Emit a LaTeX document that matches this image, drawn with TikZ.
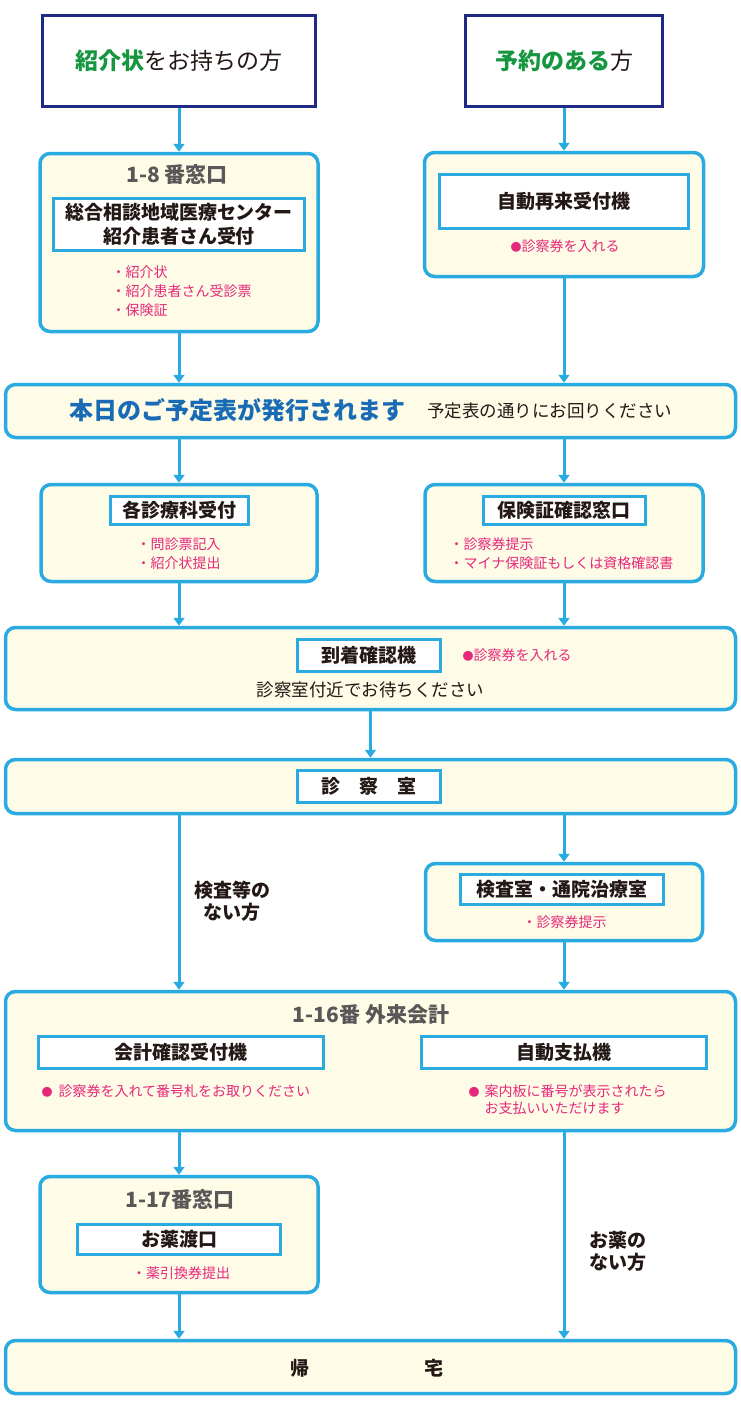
\documentclass[tikz,border=0pt]{standalone}
\usepackage{fontspec}
\setmainfont{Noto Sans CJK JP}
\usetikzlibrary{arrows.meta}
\definecolor{skyblue}{HTML}{29ABE2}
\definecolor{cream}{HTML}{FEFBE6}
\definecolor{navy}{HTML}{1F2A85}
\definecolor{leafgreen}{HTML}{15963F}
\definecolor{rose}{HTML}{E5287B}
\definecolor{slate}{HTML}{595757}
\definecolor{ink}{HTML}{231815}
\definecolor{royal}{HTML}{1A6BB5}
\newcommand\dotmark{{\fontsize{11}{11}\selectfont ●}}

\begin{document}
\begin{tikzpicture}[x=1pt, y=-1pt,
    pane/.style={draw=skyblue, line width=3.5pt, fill=cream, rounded corners=10pt, inner sep=0pt},
    starter/.style={draw=navy, line width=3.5pt, fill=white, inner sep=0pt, text=ink, font=\fontsize{23}{27}\selectfont},
    tag/.style={draw=skyblue, line width=3pt, fill=white, inner sep=0pt, align=center, text=ink, font=\bfseries\fontsize{19}{24}\selectfont},
    head/.style={text=slate, font=\bfseries\fontsize{21}{25}\selectfont},
    memo/.style={text=rose, align=left, font=\fontsize{14}{19}\selectfont},
    aside/.style={text=ink, align=center, font=\bfseries\fontsize{19}{22}\selectfont},
    flow/.style={draw=skyblue, line width=3pt, -{Triangle[width=11pt,length=8pt]}}]
    \useasboundingbox (0,0) rectangle (740,1401);

    \node[starter, minimum width=273, minimum height=91] (intro) at (179,61) {\textcolor{leafgreen}{\bfseries 紹介状}をお持ちの方};
    \node[starter, minimum width=197, minimum height=91] (appt) at (564,61) {\textcolor{leafgreen}{\bfseries 予約のある}方};

    \node[pane, minimum width=278, minimum height=178] (win18) at (179,242.5) {};
    \node[head] (win18title) at (177,175) {1-8 番窓口};
    \node[tag, minimum width=251, minimum height=52] (center) at (179,224.5) {総合相談地域医療センター\\紹介患者さん受付};
    \node[memo, anchor=west] (win18memo) at (108,291) {・紹介状\\・紹介患者さん受診票\\・保険証};

    \node[pane, minimum width=279, minimum height=124] (reentry) at (564,214.5) {};
    \node[tag, minimum width=249, minimum height=54] (reentrytag) at (564,201.5) {自動再来受付機};
    \node[memo] (reentrymemo) at (565,246) {\dotmark 診察券を入れる};

    \node[pane, minimum width=730, minimum height=53] (today) at (370.5,411) {};
    \node[text=royal, font=\bfseries\fontsize{24}{28}\selectfont] (todayhead) at (237.5,410) {本日のご予定表が発行されます};
    \node[text=ink, font=\fontsize{17.5}{20}\selectfont] (todaysub) at (549.5,411) {予定表の通りにお回りください};

    \node[pane, minimum width=276, minimum height=97] (dept) at (179,533) {};
    \node[tag, minimum width=138, minimum height=28] (depttag) at (179,510.5) {各診療科受付};
    \node[memo, anchor=west] (deptmemo) at (133,553.5) {・問診票記入\\・紹介状提出};

    \node[pane, minimum width=278, minimum height=97] (ins) at (564,533) {};
    \node[tag, minimum width=162, minimum height=28] (instag) at (564,510.5) {保険証確認窓口};
    \node[memo, anchor=west] (insmemo) at (446,553.5) {・診察券提示\\・マイナ保険証もしくは資格確認書};

    \node[pane, minimum width=730, minimum height=82] (arrive) at (370.5,668.5) {};
    \node[tag, minimum width=143, minimum height=32] (arrivetag) at (369,655.5) {到着確認機};
    \node[memo, anchor=west] (arrivememo) at (459,655) {\dotmark 診察券を入れる};
    \node[text=ink, font=\fontsize{17.5}{20}\selectfont] (arrivewait) at (370.5,690) {診察室付近でお待ちください};

    \node[pane, minimum width=730, minimum height=54] (exam) at (370.5,786.5) {};
    \node[tag, minimum width=143, minimum height=32] (examtag) at (369,786.5) {診　察　室};

    \node[aside] (nolab) at (232,901) {検査等の\\ない方};
    \node[pane, minimum width=277, minimum height=77] (lab) at (564,902) {};
    \node[tag, minimum width=203, minimum height=30] (labtag) at (562,889.5) {検査室・通院治療室};
    \node[memo] (labmemo) at (564.5,922) {・診察券提示};

    \node[pane, minimum width=730, minimum height=139] (pay) at (370.5,1061) {};
    \node[head] (paytitle) at (371,1015) {1-16番 外来会計};
    \node[tag, minimum width=285, minimum height=32] (paydesk) at (181,1052.5) {会計確認受付機};
    \node[tag, minimum width=285, minimum height=32] (payauto) at (564,1052.5) {自動支払機};
    \node[memo, anchor=west] (deskmemo) at (38,1091) {\dotmark\hspace{6pt}診察券を入れて番号札をお取りください};
    \node[memo, anchor=west, font=\fontsize{14}{17}\selectfont] (automemo) at (465,1099.5) {\dotmark\hspace{5pt}案内板に番号が表示されたら\\\hspace*{16pt}お支払いいただけます};

    \node[pane, minimum width=278, minimum height=116] (win17) at (179,1234.5) {};
    \node[head] (win17title) at (180,1200) {1-17番窓口};
    \node[tag, minimum width=203, minimum height=30] (medtag) at (179,1239.5) {お薬渡口};
    \node[memo] (win17memo) at (181,1273) {・薬引換券提出};
    \node[aside, align=left, anchor=west] (nomed) at (586,1251) {お薬の\\ない方};

    \node[pane, minimum width=730, minimum height=53] (home) at (370.5,1367) {};
    \node[aside] (hometext) at (367,1368) {帰\hspace{115pt}宅};

    \draw[flow] (intro.south) -- (win18.north);
    \draw[flow] (appt.south) -- (reentry.north);
    \draw[flow] (win18.south) -- (win18.south |- today.north);
    \draw[flow] (reentry.south) -- (reentry.south |- today.north);
    \draw[flow] (dept.north |- today.south) -- (dept.north);
    \draw[flow] (ins.north |- today.south) -- (ins.north);
    \draw[flow] (dept.south) -- (dept.south |- arrive.north);
    \draw[flow] (ins.south) -- (ins.south |- arrive.north);
    \draw[flow] (arrive.south) -- (exam.north);
    \draw[flow] (exam.south -| dept.south) -- (pay.north -| dept.south);
    \draw[flow] (lab.north |- exam.south) -- (lab.north);
    \draw[flow] (lab.south) -- (lab.south |- pay.north);
    \draw[flow] (win17.north |- pay.south) -- (win17.north);
    \draw[flow] (pay.south -| lab.south) -- (home.north -| lab.south);
    \draw[flow] (win17.south) -- (win17.south |- home.north);
\end{tikzpicture}
\end{document}
